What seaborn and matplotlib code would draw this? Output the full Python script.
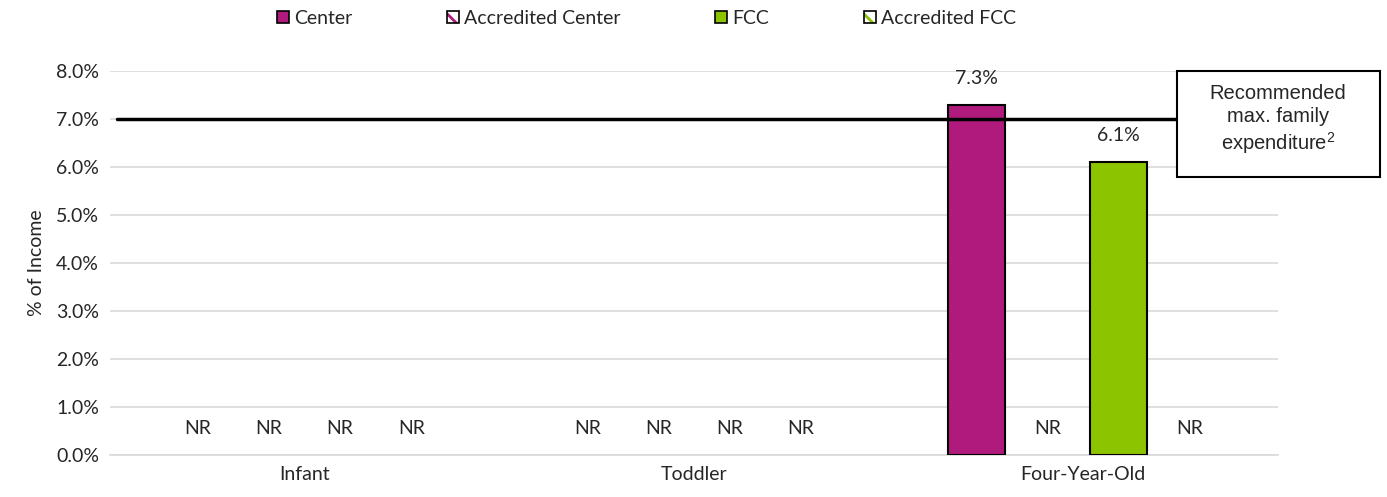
import pandas as pd
import numpy as np
import matplotlib
matplotlib.use("Agg")
import matplotlib.pyplot as plt
import seaborn as sns
from matplotlib.patches import Patch, Rectangle
from matplotlib.legend_handler import HandlerTuple

# Dữ liệu (NaN = NR, không có báo cáo)
age_groups = ["Infant", "Toddler", "Four-Year-Old"]
care_types = ["Center", "Accredited Center", "FCC", "Accredited FCC"]
infant_pct = [np.nan, np.nan, np.nan, np.nan]
toddler_pct = [np.nan, np.nan, np.nan, np.nan]
four_year_pct = [7.3, np.nan, 6.1, np.nan]
recommended_max = 7.0
y_ticks = [0, 1, 2, 3, 4, 5, 6, 7, 8]

colors = {"Center": "#B01A7C", "Accredited Center": "#B01A7C",
          "FCC": "#8DC400", "Accredited FCC": "#8DC400"}

rows = []
for grp, vals in zip(age_groups, [infant_pct, toddler_pct, four_year_pct]):
    for t, v in zip(care_types, vals):
        rows.append({"age": grp, "type": t, "pct": v})
df = pd.DataFrame(rows)

sns.set_theme(style="white")
plt.rcParams["font.family"] = ["Lato", "DejaVu Sans"]
plt.rcParams["mathtext.default"] = "regular"
plt.rcParams["hatch.linewidth"] = 2.0

fig = plt.figure(figsize=(13.87, 4.97), dpi=100)
ax = fig.add_axes([0.0793, 0.0845, 0.8421, 0.7726])

width = 0.73
sns.barplot(data=df, x="age", y="pct", hue="type", order=age_groups,
            hue_order=care_types, palette=colors, saturation=1, width=width, gap=0.2,
            edgecolor="black", linewidth=1.5, legend=False, ax=ax, zorder=3)

# Nhãn giá trị / NR
fs = 14
slot = width / len(care_types)
for i, grp in enumerate(age_groups):
    for j, t in enumerate(care_types):
        v = df[(df.age == grp) & (df.type == t)]["pct"].iloc[0]
        xpos = i + (j - 1.5) * slot
        if np.isnan(v):
            ax.text(xpos, 0.55, "NR", ha="center", va="center", fontsize=fs)
        else:
            ax.text(xpos, v + 0.55, f"{v:.1f}%", ha="center", va="center", fontsize=fs)

ax.set_xlim(-0.5, 2.5)
ax.set_ylim(0, 8)
ax.set_yticks(y_ticks)
ax.set_yticklabels([f"{v:.1f}%" for v in y_ticks], fontsize=fs)
ax.tick_params(axis="x", labelsize=fs, length=0, pad=8)
ax.tick_params(axis="y", length=0, pad=8)
ax.set_xlabel("")
ax.set_ylabel("% of Income", fontsize=fs, labelpad=8)
ax.yaxis.grid(True, color="#d9d9d9", linewidth=1.2, zorder=0)
ax.set_axisbelow(True)
for s in ["top", "right", "left"]:
    ax.spines[s].set_visible(False)
ax.spines["bottom"].set_color("#d9d9d9")
ax.spines["bottom"].set_linewidth(1.2)

# Đường chi tiêu tối đa khuyến nghị
ax.axhline(recommended_max, xmin=0.006, xmax=0.9135, color="black", linewidth=2.5, zorder=4)
ax.add_patch(Rectangle((0.9135, 0.724), 0.1738, 0.276, transform=ax.transAxes,
                       facecolor="white", edgecolor="black", linewidth=1.5,
                       clip_on=False, zorder=5))
ax.text(1.0, 0.872, "Recommended\nmax. family\nexpenditure$^{2}$", transform=ax.transAxes,
        ha="center", va="center", fontsize=14.5, family=["Liberation Sans"],
        linespacing=1.25, zorder=6)

# Chú giải
handles = []
for t in care_types:
    if t.startswith("Accredited"):
        h = (Patch(facecolor="white", edgecolor=colors[t], hatch="\\\\", linewidth=0),
             Patch(facecolor="none", edgecolor="black", linewidth=1.2))
    else:
        h = Patch(facecolor=colors[t], edgecolor="black", linewidth=1.2)
    handles.append(h)
fig.legend(handles, care_types, loc="center", bbox_to_anchor=(0.466, 0.963), ncol=4,
           frameon=False, fontsize=fs, handlelength=0.6, handleheight=0.6,
           handletextpad=0.25, columnspacing=4.9,
           handler_map={tuple: HandlerTuple(ndivide=1, pad=0)})

plt.savefig("out.png", dpi=100)
plt.close()
